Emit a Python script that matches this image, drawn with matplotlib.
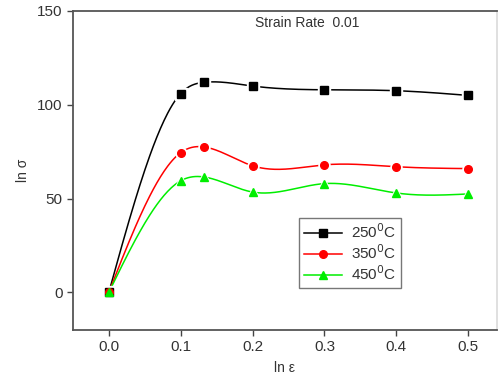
import numpy as np
import matplotlib
matplotlib.use("Agg")
import matplotlib.pyplot as plt

plt.rcParams['font.family'] = ['Liberation Sans', 'DejaVu Sans']

strain = [0.0, 0.1, 0.133, 0.2, 0.3, 0.4, 0.5]
s250 = [0.0, 106.0, 112.0, 110.0, 108.0, 107.5, 105.0]
s350 = [0.0, 74.5, 77.5, 67.5, 68.0, 67.0, 66.0]
s450 = [0.0, 59.5, 61.5, 53.5, 58.0, 53.0, 52.5]
labels = ['250$^0$C', '350$^0$C', '450$^0$C']
colors = ['black', '#ff0000', '#00ee00']
markers = ['s', 'o', '^']


def spline(x, y, n=300):
    # natural cubic spline, just for drawing the smooth line
    x = np.asarray(x, float)
    y = np.asarray(y, float)
    m = len(x)
    h = np.diff(x)
    A = np.zeros((m, m))
    b = np.zeros(m)
    A[0, 0] = A[-1, -1] = 1
    for i in range(1, m - 1):
        A[i, i - 1] = h[i - 1]
        A[i, i] = 2 * (h[i - 1] + h[i])
        A[i, i + 1] = h[i]
        b[i] = 6 * ((y[i + 1] - y[i]) / h[i] - (y[i] - y[i - 1]) / h[i - 1])
    M = np.linalg.solve(A, b)
    xs = np.linspace(x[0], x[-1], n)
    k = np.clip(np.searchsorted(x, xs) - 1, 0, m - 2)
    t0 = x[k + 1] - xs
    t1 = xs - x[k]
    hk = h[k]
    ys = (M[k] * t0**3 + M[k + 1] * t1**3) / (6 * hk) \
        + (y[k] / hk - M[k] * hk / 6) * t0 + (y[k + 1] / hk - M[k + 1] * hk / 6) * t1
    return xs, ys


fig = plt.figure(figsize=(4.99, 3.78), dpi=100)
ax = fig.add_axes([0.146, 0.127, 0.85, 0.844])

for ys, lab, c, mk in zip([s250, s350, s450], labels, colors, markers):
    xs, yy = spline(strain, ys)
    ax.plot(xs, yy, color=c, lw=1.1, zorder=2)
    ax.plot(strain, ys, ls='none', marker=mk, ms=8, color='white', zorder=3)
    ax.plot(strain, ys, ls='none', marker=mk, ms=5.5, color=c, zorder=4)
    ax.plot([], [], color=c, lw=1.1, marker=mk, ms=5.5, label=lab)

ax.text(0.203, 143.5, 'Strain Rate  0.01', fontsize=10, color='#333333', va='center')

ax.set_xlim(-0.05, 0.54)
ax.set_ylim(-20, 150)
ax.set_xticks([0.0, 0.1, 0.2, 0.3, 0.4, 0.5])
ax.set_yticks([0, 50, 100, 150])
ax.set_xticklabels(['0.0', '0.1', '0.2', '0.3', '0.4', '0.5'])
ax.tick_params(direction='out', length=4, width=1, colors='#444444', labelsize=11,
               labelcolor='#333333')
for sp in ax.spines.values():
    sp.set_color('#555555')
    sp.set_linewidth(1.3)
ax.spines['right'].set_color('#dddddd')

ax.set_xlabel('ln ε', fontsize=10, color='#333333', labelpad=5)
ax.set_ylabel('ln σ', fontsize=10, color='#333333', labelpad=5)

leg = ax.legend(loc='upper left', bbox_to_anchor=(0.533, 0.351), fontsize=11,
                frameon=True, fancybox=False, edgecolor='#555555',
                handlelength=2.5, borderpad=0.3, labelspacing=0.15, handletextpad=0.6,
                borderaxespad=0)
leg.get_frame().set_linewidth(1.0)
for t in leg.get_texts():
    t.set_color('#333333')

fig.savefig('out.png', dpi=100)
